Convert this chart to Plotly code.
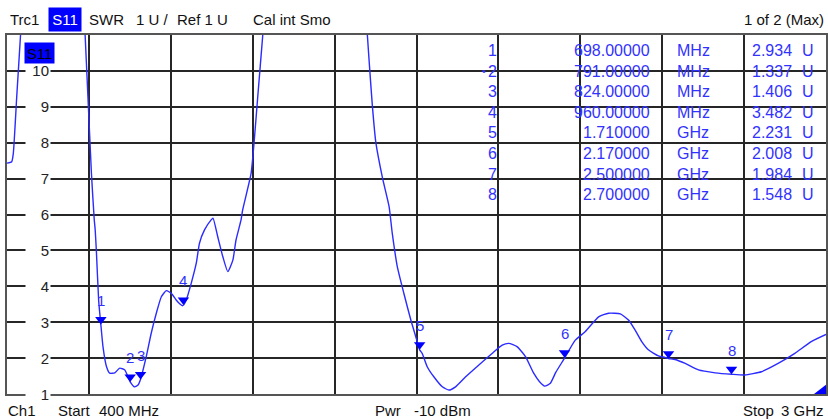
import plotly.graph_objects as go

# ---------------- data ----------------
START_MHZ = 400
STOP_MHZ = 3000
REF_U = 1
TOP_U = 11

freq_mhz = [400, 415, 420, 431, 443, 456, 550, 631, 648, 657, 668, 677, 680, 684, 691, 698,
            705, 716, 726, 742, 758, 774, 791, 805, 816, 824, 842, 858, 874, 890, 906, 922,
            937, 950, 958, 969, 985, 1001, 1011, 1027, 1048, 1054, 1069, 1085, 1101, 1117,
            1127, 1143, 1148, 1175, 1185, 1196, 1212, 1230, 1380, 1530, 1544, 1552, 1560,
            1571, 1592, 1613, 1623, 1639, 1660, 1682, 1702, 1710, 1718, 1734, 1755, 1782,
            1803, 1824, 1856, 1898, 1940, 1972, 1993, 2019, 2046, 2072, 2090, 2107, 2125,
            2142, 2170, 2204, 2236, 2278, 2310, 2347, 2373, 2394, 2415, 2436, 2468, 2489,
            2500, 2521, 2553, 2595, 2648, 2700, 2742, 2795, 2848, 2901, 2953, 3000]
swr = [7.43, 7.47, 7.7, 9.3, 11.0, 13.0, 16.0, 14.2, 11.0, 9.27, 7.15, 5.85, 5.57, 4.93, 3.6, 2.93,
       2.3, 1.76, 1.58, 1.59, 1.72, 1.67, 1.34, 1.2, 1.25, 1.41, 2.04, 2.7, 3.25, 3.71, 3.88, 3.8,
       3.62, 3.5, 3.46, 3.62, 4.09, 4.65, 5.2, 5.57, 5.85, 5.9, 5.38, 4.83, 4.41, 4.73,
       5.29, 5.85, 6.12, 7.15, 8.07, 9.28, 11.0, 13.0, 18.0, 13.0, 11.0, 9.98, 9.02,
       8.0, 7.02, 6.22, 5.48, 4.55, 3.8, 3.06, 2.47, 2.23, 2.13, 1.76, 1.48, 1.2,
       1.11, 1.2, 1.48, 1.81, 2.13, 2.36, 2.41, 2.32, 2.04, 1.58, 1.35, 1.22, 1.3,
       1.6, 2.0, 2.5, 2.74, 3.15, 3.25, 3.23, 3.06, 2.78, 2.46, 2.23, 2.06, 2.02,
       1.99, 1.96, 1.85, 1.67, 1.59, 1.55, 1.53, 1.62, 1.85, 2.13, 2.46, 2.66]

marker_no = ["1", "2", "3", "4", "5", "6", "7", "8"]
marker_freq_mhz = [698, 791, 824, 960, 1710, 2170, 2500, 2700]
marker_swr = [2.934, 1.337, 1.406, 3.482, 2.231, 2.008, 1.984, 1.548]
marker_freq_text = ["698.00000", "791.00000", "824.00000", "960.00000",
                    "1.710000", "2.170000", "2.500000", "2.700000"]
marker_unit = ["MHz", "MHz", "MHz", "MHz", "GHz", "GHz", "GHz", "GHz"]
marker_val_text = ["2.934", "1.337", "1.406", "3.482", "2.231", "2.008", "1.984", "1.548"]
active_marker = 1  # index of marker 2

y_tick_vals = [1, 2, 3, 4, 5, 6, 7, 8, 9, 10]
y_tick_labels = ["1", "2", "3", "4", "5", "6", "7", "8", "9", "10"]

# ---------------- geometry / style ----------------
W, H = 828, 419
L, R, T, B = 7, 0, 35, 25
PW, PH = W - L - R, H - T - B
FONT = "Liberation Sans, Arial, sans-serif"
BLUE_TXT = "#3232ff"
BLUE_LINE = "#2b2bff"
BLUE_MK = "#0000ff"


def pxx(p):
    return (p - L) / PW


def pxy(p):
    return (H - B - p) / PH


unit_px = PH / (TOP_U - REF_U)
shift_u = 5.0 / unit_px  # lift triangle so its tip sits on the value

fig = go.Figure()
fig.add_trace(go.Scatter(x=freq_mhz, y=swr, mode="lines",
                         line=dict(color=BLUE_LINE, width=1.4, shape="spline", smoothing=0.5),
                         hoverinfo="skip", showlegend=False))
fig.add_trace(go.Scatter(x=marker_freq_mhz, y=marker_swr, mode="markers", yaxis="y2",
                         marker=dict(symbol="triangle-down", size=10, color=BLUE_MK,
                                     line=dict(width=0)),
                         hoverinfo="skip", showlegend=False))
# off-screen indicator at the stop corner
fig.add_trace(go.Scatter(x=[STOP_MHZ], y=[REF_U], mode="markers",
                         marker=dict(symbol="triangle-left", size=24, color=BLUE_MK,
                                     line=dict(width=0)),
                         hoverinfo="skip", showlegend=False, cliponaxis=True))

ann = []


def add(x, y, text, font, xref="paper", yref="paper", xanchor="center", yanchor="middle", **kw):
    ann.append(dict(x=x, y=y, xref=xref, yref=yref, text=text, showarrow=False,
                    xanchor=xanchor, yanchor=yanchor, font=font, **kw))


# marker labels
for n, f, v in zip(marker_no, marker_freq_mhz, marker_swr):
    add(f, v, n, dict(family=FONT, size=15, color=BLUE_TXT), xref="x", yref="y", yshift=24)

# y tick labels (inside, on white)
for v, t in zip(y_tick_vals, y_tick_labels):
    add(pxx(25), v, t, dict(family=FONT, size=15, color="#222222"), yref="y",
        xanchor="left", width=22, align="right", bgcolor="white", borderpad=1)

# S11 tag inside the plot
add(pxx(39.5), pxy(53), "S11", dict(family=FONT, size=15, color="black"),
    width=27, height=18, borderpad=1, bgcolor="#0000ff")

# marker table
row0, rstep = 50.5, 20.6
tf = dict(family=FONT, size=16, color=BLUE_TXT)
for i in range(len(marker_no)):
    yy = pxy(row0 + rstep * i)
    add(pxx(500), yy, marker_no[i], tf, xanchor="right")
    add(pxx(654), yy, marker_freq_text[i], tf, xanchor="right")
    add(pxx(677), yy, marker_unit[i], tf, xanchor="left")
    add(pxx(752), yy, marker_val_text[i], tf, xanchor="left")
    add(pxx(802), yy, "U", tf, xanchor="left")
    if i == active_marker:
        add(pxx(485), yy, "•", dict(family=FONT, size=11, color=BLUE_TXT))

# header
hf = dict(family=FONT, size=15, color="#111111")
hy = pxy(20)
for xpx, txt, anc in [(8.3, "Trc1", "left"), (87.3, "SWR", "left"), (134, "1 U /", "left"),
                      (175.7, "Ref 1 U", "left"), (251.3, "Cal int Smo", "left"),
                      (828, "1 of 2 (Max)", "right")]:
    add(pxx(xpx), hy, txt, hf, xanchor=anc)
add(pxx(65), pxy(19.5), "S11", dict(family=FONT, size=15, color="white"),
    width=30, height=21, borderpad=1, bgcolor="#0000ff")

# footer
fy = pxy(410)
for xpx, txt, anc in [(6.3, "Ch1", "left"), (55.7, "Start", "left"), (97.3, "400 MHz", "left"),
                      (374, "Pwr", "left"), (413, "-10 dBm", "left"), (743, "Stop", "left"),
                      (828, "3 GHz", "right")]:
    add(pxx(xpx), fy, txt, hf, xanchor=anc)

GRID = "#262626"
fig.update_layout(
    width=W, height=H,
    margin=dict(l=L, r=R, t=T, b=B, pad=0),
    paper_bgcolor="white", plot_bgcolor="white",
    showlegend=False,
    xaxis=dict(range=[START_MHZ, STOP_MHZ], tick0=START_MHZ, dtick=(STOP_MHZ - START_MHZ) / 10,
               showgrid=True, gridcolor=GRID, gridwidth=1.5, zeroline=False,
               showticklabels=False, ticks="", showline=True, linecolor="#555555",
               linewidth=2, mirror=True, fixedrange=True),
    yaxis=dict(range=[REF_U, TOP_U], tick0=REF_U, dtick=1, showgrid=True, gridcolor=GRID,
               gridwidth=1.5, zeroline=False, showticklabels=False, ticks="",
               showline=True, linecolor="#555555", linewidth=2, mirror=True,
               fixedrange=True),
    yaxis2=dict(range=[REF_U - shift_u, TOP_U - shift_u], overlaying="y", visible=False,
                fixedrange=True),
    annotations=ann,
)

fig.write_html("out.html", config={"displayModeBar": False},
               post_script="document.body.style.margin='0px';document.body.style.overflow='hidden';")
